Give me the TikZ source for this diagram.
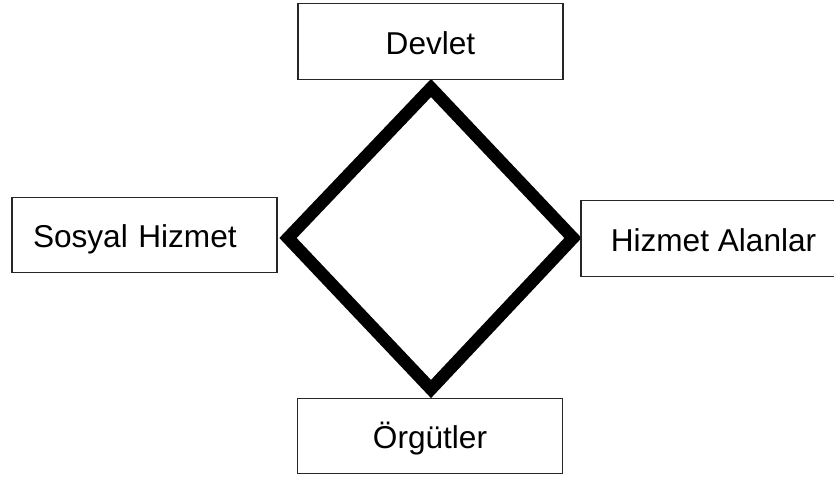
\documentclass[tikz,border=0pt]{standalone}
\usepackage{fontspec}
\setmainfont{Liberation Sans}
\begin{document}
\begin{tikzpicture}[x=1pt,y=-1pt,
  box/.style={draw=black!85,line width=1.2pt,fill=white,rectangle,minimum width=265pt,minimum height=75.5pt,
    inner sep=0pt,font=\fontsize{31.6}{37}\selectfont,text height=31pt,text depth=6pt},
  frame/.style={draw=black,line width=12.5pt,line join=miter,miter limit=10}]
\clip (0,0) rectangle (834,477);
\useasboundingbox (0,0) rectangle (834,477);
\fill[white] (0,0) rectangle (834,477);
\coordinate (t) at (431,88);
\coordinate (r) at (573,238);
\coordinate (b) at (431,389);
\coordinate (l) at (288,238);
\draw[frame] (t) -- (r) -- (b) -- (l) -- cycle;
\node[box] (devlet) at (430.5,41.5) {Devlet};
\node[box,text width=223pt,inner xsep=21pt,align=left] (sosyal) at (144.5,235) {Sosyal Hizmet};
\node[box] (alan) at (713.5,238.5) {Hizmet Alanlar};
\node[box] (orgut) at (430,436) {Örgütler};
\end{tikzpicture}
\end{document}
